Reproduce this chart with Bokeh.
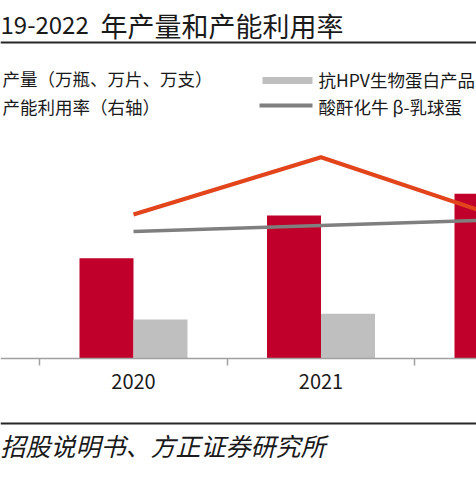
from bokeh.plotting import figure
from bokeh.models import Range1d, FixedTicker, Label, BoxAnnotation, ColumnDataSource
from bokeh.transform import dodge
from bokeh.embed import file_html
from bokeh.resources import INLINE

# ---- data ----
years = [2020, 2021, 2022]
output_main = [40.1, 57.2, 65.9]          # 产量（万瓶、万片、万支）- red bars
years_hpv = [2020, 2021]
output_hpv = [15.6, 17.9]                 # 抗HPV生物蛋白产品 - light grey bars
util_total = [57.6, 80.5, 55.4]           # 产能利用率（右轴）- orange line, %
util_blg = [50.8, 53.2, 55.6]             # 酸酐化牛 β-乳球蛋白 - grey line, %
tick_years = [2020, 2021, 2022]
tick_labels = ["2020", "2021", "2022"]
group_edges = [2019.5, 2020.5, 2021.5]

title_a = "19-2022"
title_b = "年产量和产能利用率"
leg_left = ["产量（万瓶、万片、万支）", "产能利用率（右轴）"]
leg_right = ["抗HPV生物蛋白产品", "酸酐化牛 β-乳球蛋"]
source_txt = "招股说明书、方正证券研究所"

FONT = "Noto Sans CJK SC"
W, H = 476, 477
AXIS_Y = 358          # pixel row of the category axis
px_per_year = 187.5
x0 = 2020 - 133 / px_per_year
k = 0.4               # value units per pixel (both y scales)

p = figure(width=W, height=H, output_backend="svg", toolbar_location=None,
           y_axis_location=None, x_axis_location="below",
           x_range=Range1d(x0, x0 + W / px_per_year),
           y_range=Range1d(-(H - AXIS_Y) * k, AXIS_Y * k),
           min_border=0)
p.extra_y_ranges = {"pct": Range1d(-(H - AXIS_Y) * k, AXIS_Y * k)}
p.outline_line_color = None
p.xgrid.visible = False
p.ygrid.visible = False
p.background_fill_color = "white"
p.border_fill_color = "white"

src_main = ColumnDataSource(dict(x=years, top=output_main))
src_hpv = ColumnDataSource(dict(x=years_hpv, top=output_hpv))
bw = 0.288
p.vbar(x=dodge("x", -bw / 2, range=p.x_range), top="top", bottom=0, width=bw,
       source=src_main, fill_color="#C0002A", line_color=None)
p.vbar(x=dodge("x", bw / 2, range=p.x_range), top="top", bottom=0, width=bw,
       source=src_hpv, fill_color="#BFBFBF", line_color=None)
p.line(years, util_blg, y_range_name="pct", line_color="#7F7F7F", line_width=3.5)
p.line(years, util_total, y_range_name="pct", line_color="#E2441B", line_width=4)

ax = p.xaxis[0]
ax.fixed_location = 0
ax.ticker = FixedTicker(ticks=tick_years, minor_ticks=group_edges)
ax.major_label_overrides = {float(t): l for t, l in zip(tick_years, tick_labels)}
ax.major_tick_out = 0
ax.major_tick_in = 0
ax.minor_tick_out = 7
ax.minor_tick_in = 0
ax.minor_tick_line_color = "#A0A0A0"
ax.minor_tick_line_width = 1.5
ax.axis_line_color = "#A0A0A0"
ax.axis_line_width = 1.5
ax.major_label_text_font = FONT
ax.major_label_text_font_size = "20px"
ax.major_label_text_color = "#1A1A1A"
ax.major_label_standoff = 8


def sy(ref_y):
    return H - ref_y


def lab(text, x, y, size, align="left", style="normal", color="#1A1A1A"):
    p.add_layout(Label(x=x, y=sy(y), x_units="screen", y_units="screen", text=text,
                       text_font=FONT, text_font_size=size, text_align=align,
                       text_baseline="middle", text_color=color, text_font_style=style))


def box(l, r, top, bottom, color):
    p.add_layout(BoxAnnotation(left=l, right=r, top=sy(top), bottom=sy(bottom),
                               left_units="screen", right_units="screen",
                               top_units="screen", bottom_units="screen",
                               fill_color=color, fill_alpha=1, line_color=None,
                               level="overlay"))


# title
lab(title_a, 0, 24, "24px")
lab(title_b, 100, 25, "27px")
box(0, W, 41, 43, "#262626")

# legend
lab(leg_left[0], 2, 77.5, "17.5px")
lab(leg_left[1], 2, 106, "17.5px")
box(262, 312, 76.5, 83.5, "#BFBFBF")
box(259, 312, 103, 107, "#7F7F7F")
lab(leg_right[0], 318, 79, "17.5px")
lab(leg_right[1], 318, 106, "17.5px")

# bottom rule + source
box(0, W, 422, 424, "#262626")
lab(source_txt, 0, 444, "25px", style="italic")

open("out.html", "w").write(file_html(p, INLINE))
